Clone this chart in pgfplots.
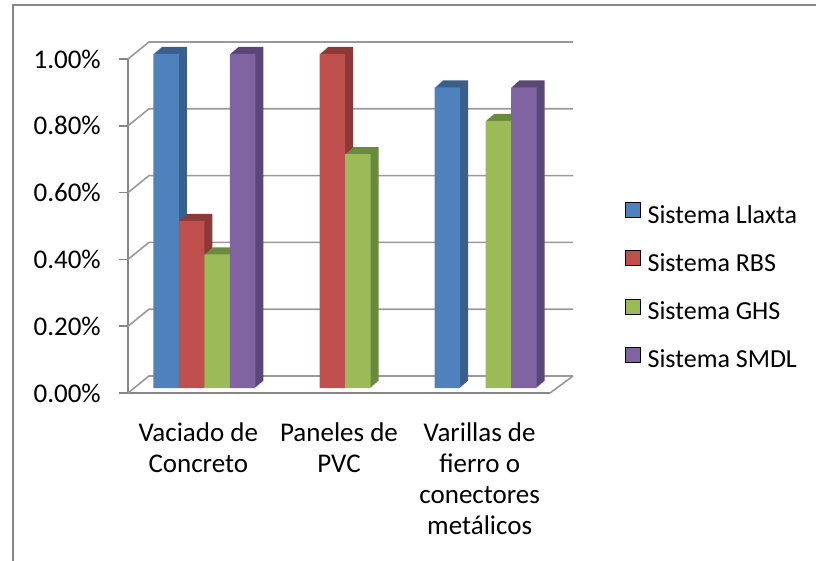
\documentclass[border=0pt]{standalone}
\usepackage{fontspec}
\setmainfont{Carlito}
\usepackage{pgfplots}
\pgfplotsset{compat=1.18}

\definecolor{llaxta}{HTML}{4F81BD}
\definecolor{llaxtaside}{HTML}{3A5F8B}
\definecolor{rbs}{HTML}{C0504D}
\definecolor{rbsside}{HTML}{8C3A38}
\definecolor{ghs}{HTML}{9BBB59}
\definecolor{ghsside}{HTML}{6C8A3D}
\definecolor{smdl}{HTML}{8064A2}
\definecolor{smdlside}{HTML}{5B4777}
\definecolor{axisgray}{HTML}{868686}
\definecolor{gridgray}{HTML}{999999}
\definecolor{framegray}{HTML}{888888}

% 3D column: empty (zero) values are not drawn
\pgfplotsset{col/.style={ybar, forget plot, bar width=25.5pt, draw=none,
  y filter/.expression={y==0 ? nan : y}}}

\begin{document}
\begin{tikzpicture}[x=1pt,y=1pt,font=\fontsize{27pt}{31pt}\selectfont]
\path[use as bounding box] (0,0) rectangle (816,560);
% chart frame
\draw[framegray, line width=2pt] (13,-5) -- (13,555) -- (821,555);
\begin{axis}[
  at={(128pt,167pt)}, anchor=south west,
  width=422pt, height=334pt, scale only axis,
  xmin=0, xmax=3, ymin=0, ymax=1, clip=false,
  axis x line=bottom, axis y line=left,
  axis line style={-, axisgray, line width=1.5pt},
  tick align=outside,
  major tick length=9pt, minor tick length=9pt,
  xtick={0.5,1.5,2.5},
  xticklabels={{Vaciado de\\Concreto},{Paneles de\\PVC},{Varillas de\\fierro o\\conectores\\metálicos}},
  x tick style={draw=none},
  minor xtick={0,1,2,3},
  minor x tick style={axisgray, line width=1.5pt},
  xticklabel style={align=center, inner sep=0pt, yshift=-21pt},
  ytick={0,0.2,0.4,0.6,0.8,1},
  y tick style={axisgray, line width=1.5pt},
  /pgf/number format/assume math mode=true,
  yticklabel={\pgfmathprintnumber[fixed,fixed zerofill,precision=2]{\tick}\%},
  yticklabel style={inner sep=0pt, xshift=-18pt, anchor=east},
  legend image code/.code={\fill[#1] (0pt,0pt) rectangle (15pt,15pt);},
  legend style={draw=none, fill=none, at={(1.1777,0.5719)}, anchor=north west,
    inner sep=0pt, row sep=21pt, column sep=7pt,
    font=\fontsize{26pt}{31pt}\selectfont,
    nodes={inner sep=0pt, text height=18pt, text depth=6pt}},
  legend cell align=left,
]
% back wall gridlines and side diagonals
\pgfplotsinvokeforeach{0,0.2,0.4,0.6,0.8,1}{
  \draw[gridgray, line width=1.6pt] (axis cs:0,#1) -- ([shift={(21pt,17pt)}]axis cs:0,#1) -- ([shift={(23pt,17pt)}]axis cs:3,#1);
}
\draw[gridgray, line width=1.6pt] (axis cs:3,0) -- ([shift={(23pt,17pt)}]axis cs:3,0);

% Sistema Llaxta
\pgfplotsinvokeforeach{1,...,8}{
  \addplot[col, bar shift=-32.25pt, fill=llaxtaside, xshift=#1pt, yshift={5pt+0.875*#1pt}]
    coordinates {(0.5,1.00) (1.5,0) (2.5,0.90)};
}
\addplot[col, bar shift=-32.25pt, fill=llaxta, yshift=5pt]
  coordinates {(0.5,1.00) (1.5,0) (2.5,0.90)};

% Sistema RBS
\pgfplotsinvokeforeach{1,...,8}{
  \addplot[col, bar shift=-6.75pt, fill=rbsside, xshift=#1pt, yshift={5pt+0.875*#1pt}]
    coordinates {(0.5,0.50) (1.5,1.00) (2.5,0)};
}
\addplot[col, bar shift=-6.75pt, fill=rbs, yshift=5pt]
  coordinates {(0.5,0.50) (1.5,1.00) (2.5,0)};

% Sistema GHS
\pgfplotsinvokeforeach{1,...,8}{
  \addplot[col, bar shift=18.75pt, fill=ghsside, xshift=#1pt, yshift={5pt+0.875*#1pt}]
    coordinates {(0.5,0.40) (1.5,0.70) (2.5,0.80)};
}
\addplot[col, bar shift=18.75pt, fill=ghs, yshift=5pt]
  coordinates {(0.5,0.40) (1.5,0.70) (2.5,0.80)};

% Sistema SMDL
\pgfplotsinvokeforeach{1,...,8}{
  \addplot[col, bar shift=44.25pt, fill=smdlside, xshift=#1pt, yshift={5pt+0.875*#1pt}]
    coordinates {(0.5,1.00) (1.5,0) (2.5,0.90)};
}
\addplot[col, bar shift=44.25pt, fill=smdl, yshift=5pt]
  coordinates {(0.5,1.00) (1.5,0) (2.5,0.90)};

\addlegendimage{fill=llaxta}\addlegendentry{Sistema Llaxta}
\addlegendimage{fill=rbs}\addlegendentry{Sistema RBS}
\addlegendimage{fill=ghs}\addlegendentry{Sistema GHS}
\addlegendimage{fill=smdl}\addlegendentry{Sistema SMDL}
\end{axis}
\end{tikzpicture}
\end{document}
